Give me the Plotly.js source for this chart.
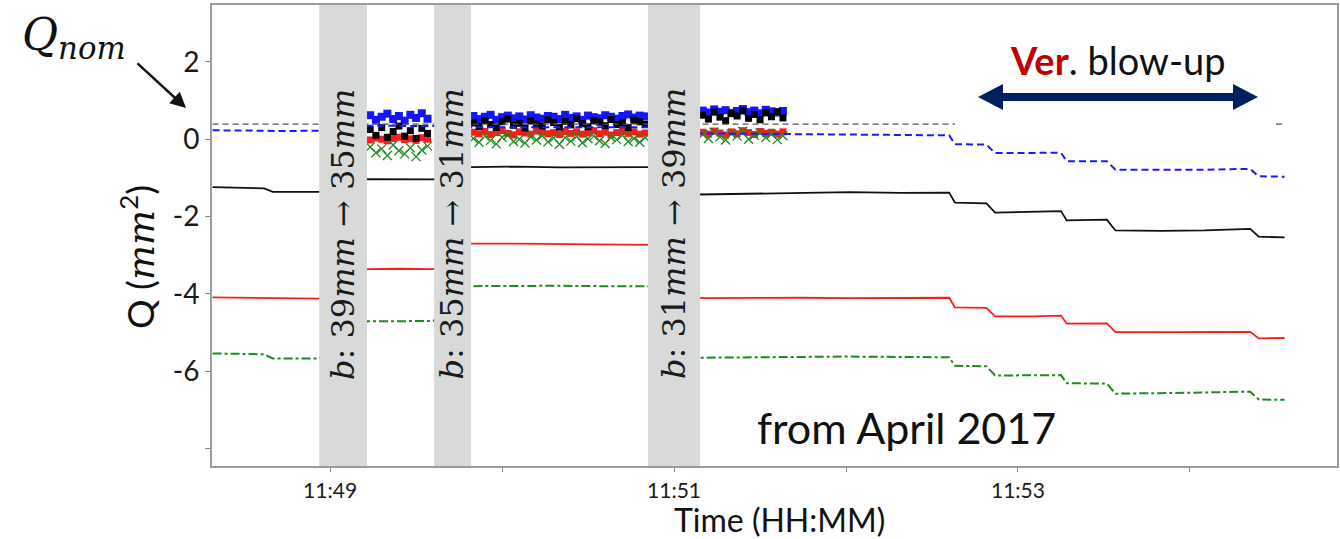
<!DOCTYPE html>
<html>
<head>
<meta charset="utf-8">
<script src="https://cdn.plot.ly/plotly-3.0.1.min.js"></script>
<style>html,body{margin:0;padding:0;background:#fff;}#chart{width:1340px;height:539px;}</style>
</head>
<body>
<div id="chart"></div>
<script>
// ---------- DATA ----------
const day = '2017-04-01 ';

// continuous measurement lines (time HH:MM:SS)
const lineTime = ['11:48:19','11:48:29','11:48:37','11:48:40','11:48:50','11:48:56',
  '11:49:13','11:49:24','11:49:36',
  '11:49:49','11:50:05','11:50:20','11:50:35','11:50:51',
  '11:51:09','11:51:27','11:51:44','11:52:01','11:52:19','11:52:36','11:52:38','11:52:49','11:52:52',
  '11:53:05','11:53:15','11:53:17','11:53:31','11:53:34','11:53:50','11:54:05','11:54:18','11:54:21','11:54:24','11:54:33'];

const blueLine  = [0.23,0.23,0.22,0.21,0.22,0.22, 0.35,0.35,0.34, 0.31,0.31,0.31,0.31,0.31,
  0.15,0.14,0.13,0.12,0.10,0.10,-0.13,-0.14,-0.36,-0.36,-0.35,-0.57,-0.57,-0.79,-0.79,-0.79,-0.77,-0.77,-0.96,-0.97];
const blackLine = [-1.24,-1.26,-1.27,-1.36,-1.35,-1.36, -1.03,-1.03,-1.04, -0.72,-0.71,-0.73,-0.72,-0.72,
  -1.43,-1.41,-1.38,-1.37,-1.39,-1.38,-1.64,-1.66,-1.90,-1.87,-1.86,-2.10,-2.08,-2.36,-2.37,-2.36,-2.33,-2.32,-2.52,-2.54];
const redLine   = [-4.09,-4.10,-4.10,-4.12,-4.12,-4.12, -3.36,-3.35,-3.36, -2.70,-2.70,-2.71,-2.72,-2.73,
  -4.11,-4.10,-4.10,-4.11,-4.11,-4.10,-4.35,-4.36,-4.58,-4.58,-4.56,-4.77,-4.76,-4.99,-4.99,-4.99,-4.98,-4.98,-5.15,-5.14];
const greenLine = [-5.54,-5.55,-5.56,-5.67,-5.66,-5.67, -4.71,-4.71,-4.70, -3.80,-3.79,-3.79,-3.80,-3.80,
  -5.65,-5.64,-5.63,-5.62,-5.63,-5.64,-5.86,-5.87,-6.11,-6.11,-6.10,-6.31,-6.32,-6.58,-6.57,-6.55,-6.53,-6.53,-6.73,-6.74];

// nominal Q (grey dashed)
const qnomTime = ['11:48:19','11:52:38',null,'11:54:30','11:54:33'];
const qnomVal  = [0.39,0.39,null,0.39,0.39];

// scattered measurements during scans
const markTime = ['11:49:14','11:49:16','11:49:18','11:49:20','11:49:22','11:49:24','11:49:26','11:49:28','11:49:30','11:49:32','11:49:34',
  '11:49:50','11:49:52','11:49:54','11:49:56','11:49:58','11:50:00','11:50:02','11:50:04','11:50:06','11:50:08','11:50:10','11:50:12','11:50:14','11:50:16','11:50:18','11:50:20',
  '11:50:22','11:50:24','11:50:26','11:50:28','11:50:30','11:50:32','11:50:34','11:50:36','11:50:38','11:50:40','11:50:42','11:50:44','11:50:46','11:50:48','11:50:50',
  '11:51:10','11:51:12','11:51:14','11:51:16','11:51:18','11:51:20','11:51:22','11:51:24','11:51:26','11:51:28','11:51:30','11:51:32','11:51:34','11:51:36','11:51:38'];
const blueMark = [0.62,0.50,0.58,0.66,0.52,0.60,0.48,0.63,0.55,0.67,0.53,
  0.60,0.52,0.58,0.63,0.50,0.57,0.61,0.54,0.59,0.51,0.62,0.56,0.53,0.60,0.58,0.52,0.63,0.55,0.59,0.50,0.61,0.57,0.54,0.62,0.58,0.53,0.60,0.64,0.56,0.61,0.59,
  0.74,0.69,0.77,0.71,0.75,0.68,0.73,0.78,0.70,0.74,0.67,0.76,0.72,0.69,0.73];
const blackMark = [0.25,0.10,0.30,0.05,0.20,0.34,0.08,0.22,0.02,0.28,0.15,
  0.42,0.33,0.48,0.38,0.30,0.45,0.52,0.36,0.41,0.29,0.47,0.39,0.34,0.50,0.43,0.31,0.46,0.37,0.53,0.40,0.32,0.48,0.44,0.35,0.51,0.38,0.42,0.30,0.49,0.45,0.39,
  0.62,0.52,0.70,0.57,0.48,0.66,0.60,0.73,0.54,0.64,0.50,0.68,0.58,0.71,0.55];
const redMark = [-0.02,0.03,0.00,-0.04,0.02,0.05,-0.01,0.01,-0.03,0.04,0.00,
  0.18,0.14,0.20,0.12,0.17,0.22,0.15,0.11,0.19,0.16,0.13,0.21,0.18,0.14,0.17,0.12,0.20,0.15,0.19,0.13,0.16,0.22,0.14,0.18,0.11,0.17,0.20,0.15,0.19,0.13,0.16,
  0.18,0.13,0.21,0.16,0.11,0.19,0.14,0.22,0.17,0.12,0.20,0.15,0.18,0.13,0.19];
const greenMark = [-0.20,-0.35,-0.25,-0.42,-0.15,-0.30,-0.38,-0.22,-0.45,-0.28,-0.18,
  0.02,-0.08,0.08,-0.03,-0.12,0.05,0.10,-0.06,0.00,-0.10,0.06,-0.02,0.09,-0.07,0.03,-0.13,0.04,-0.05,0.07,-0.09,0.01,0.08,-0.04,-0.11,0.05,-0.01,0.10,-0.06,0.02,-0.08,0.04,
  0.12,0.02,0.18,0.06,-0.02,0.14,0.08,0.20,0.00,0.10,0.16,0.04,0.13,-0.01,0.09];

// grey bands: scan periods
const bandStart = ['11:48:56.2','11:49:36.3','11:50:50.9'];
const bandEnd   = ['11:49:12.9','11:49:49.2','11:51:09.1'];
const bandMid   = ['11:49:04.5','11:49:42.7','11:51:00.0'];
const bandLabel = ['<i>b</i>: 39<i>mm</i> → 35<i>mm</i>', '<i>b</i>: 35<i>mm</i> → 31<i>mm</i>', '<i>b</i>: 31<i>mm</i> → 39<i>mm</i>'];

// axis ticks
const xTickVals = ['11:49','11:50','11:51','11:52','11:53','11:54'];
const xTickText = ['11:49','','11:51','','11:53',''];
const yTickVals = [-8,-6,-4,-2,0,2];
const yTickText = ['','-6','-4','-2','0','2'];

// ---------- CHART ----------
const toDate = t => t === null ? null : day + t;
const L = 212, R = 1337, T = 5, B = 466;
const pxX = p => (p - L) / (R - L);
const pxY = p => (B - p) / (B - T);

const traces = [];
function markers(y, color, symbol, size) {
  traces.push({x: markTime.map(toDate), y: y, mode: 'markers', type: 'scatter',
    marker: {color: color, symbol: symbol, size: size, line: {width: symbol.indexOf('x') >= 0 ? 1.3 : 0, color: color}},
    hoverinfo: 'skip'});
}
markers(redMark, '#ff1a1a', 'square', 7);
markers(greenMark, '#1f8a1f', 'x-thin', 9);
markers(blueMark, '#1414ff', 'square', 8);
markers(blackMark, '#000000', 'square', 7);

function line(x, y, color, dash, width) {
  traces.push({x: x.map(toDate), y: y, mode: 'lines', type: 'scatter', connectgaps: false,
    line: {color: color, dash: dash, width: width}, hoverinfo: 'skip'});
}
line(qnomTime, qnomVal, '#555555', '6px,4px', 1.3);
line(lineTime, blueLine, '#1a1aff', '7px,4px', 2);
line(lineTime, blackLine, '#111111', 'solid', 1.8);
line(lineTime, redLine, '#ff1a1a', 'solid', 1.8);
line(lineTime, greenLine, '#1f8a1f', 'dashdot', 2);

const shapes = [];
for (let i = 0; i < bandStart.length; i++) {
  shapes.push({type: 'rect', xref: 'x', yref: 'paper', x0: toDate(bandStart[i]), x1: toDate(bandEnd[i]),
    y0: 0, y1: 1, fillcolor: '#d8dad9', line: {width: 0}, layer: 'above'});
}
// double arrow (Ver. blow-up)
const arrowPts = [[978,97],[1003,84],[1003,93],[1233,93],[1233,84],[1258,97],[1233,110],[1233,101],[1003,101],[1003,110]];
shapes.push({type: 'path', xref: 'paper', yref: 'paper', layer: 'above',
  path: 'M ' + arrowPts.map(p => pxX(p[0]).toFixed(5) + ',' + pxY(p[1]).toFixed(5)).join(' L ') + ' Z',
  fillcolor: '#002060', line: {width: 0}});

const annotations = [];
for (let i = 0; i < bandStart.length; i++) {
  annotations.push({xref: 'x', yref: 'paper', x: toDate(bandMid[i]), y: pxY(234), text: bandLabel[i],
    textangle: -90, showarrow: false, xanchor: 'center', yanchor: 'middle',
    font: {family: 'DejaVu Serif', size: 32, color: '#1a1a1a'}});
}
annotations.push({xref: 'paper', yref: 'paper', x: pxX(20), y: pxY(38), xanchor: 'left', yanchor: 'middle',
  text: '<i>Q<sub>nom</sub></i>', showarrow: false, font: {family: 'DejaVu Serif', size: 44, color: '#111'}});
annotations.push({xref: 'paper', yref: 'paper', x: pxX(186), y: pxY(108), ax: -50, ay: -46, text: '',
  showarrow: true, arrowhead: 2, arrowsize: 1.3, arrowwidth: 2.4, arrowcolor: '#111'});
annotations.push({xref: 'paper', yref: 'paper', x: pxX(1118), y: pxY(60), xanchor: 'center', yanchor: 'middle',
  text: '<b><span style="color:#c00000">Ver</span></b>. blow-up', showarrow: false,
  font: {family: 'Lato', size: 38, color: '#111'}});
annotations.push({xref: 'paper', yref: 'paper', x: pxX(906), y: pxY(427), xanchor: 'center', yanchor: 'middle',
  text: 'from April 2017', showarrow: false, font: {family: 'Lato', size: 43, color: '#111'}});
// axis titles
annotations.push({xref: 'paper', yref: 'paper', x: pxX(779), y: pxY(519), xanchor: 'center', yanchor: 'middle',
  text: 'Time (HH:MM)', showarrow: false, borderpad: 0, font: {family: 'Lato', size: 32, color: '#111'}});
annotations.push({xref: 'paper', yref: 'paper', x: pxX(137), y: pxY(257), xanchor: 'center', yanchor: 'middle',
  textangle: -90, text: 'Q (<i><span style="font-family:DejaVu Serif">mm</span></i><sup>2</sup>)', showarrow: false,
  font: {family: 'Lato', size: 37, color: '#111'}});

const layout = {
  width: 1340, height: 539,
  margin: {l: L, r: 1340 - R, t: T, b: 539 - B},
  paper_bgcolor: '#ffffff', plot_bgcolor: '#ffffff',
  showlegend: false,
  xaxis: {type: 'date', range: [toDate('11:48:18.8'), toDate('11:54:51.3')],
    tickmode: 'array', tickvals: xTickVals.map(toDate), ticktext: xTickText,
    showline: true, mirror: true, linecolor: '#9c9c9c', linewidth: 2,
    ticks: 'outside', ticklen: 4, tickcolor: '#888', showgrid: false, zeroline: false,
    tickfont: {family: 'Lato', size: 21, color: '#1a1a1a'}, ticklabelstandoff: 1},
  yaxis: {range: [-8.45, 3.47], tickmode: 'array', tickvals: yTickVals, ticktext: yTickText,
    showline: true, mirror: true, linecolor: '#9c9c9c', linewidth: 2,
    ticks: 'outside', ticklen: 5, tickcolor: '#888', showgrid: false, zeroline: false,
    tickfont: {family: 'Lato', size: 28, color: '#1a1a1a'}},
  shapes: shapes,
  annotations: annotations
};

Plotly.newPlot('chart', traces, layout, {staticPlot: true, displayModeBar: false});
</script>
</body>
</html>
